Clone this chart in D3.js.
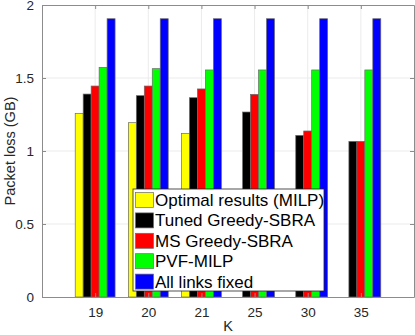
<!DOCTYPE html>
<html>
<head>
<meta charset="utf-8">
<script src="https://cdn.jsdelivr.net/npm/d3@7"></script>
<style>
  body { margin: 0; background: #fff; }
  svg { display: block; font-family: "Liberation Sans", Arial, sans-serif; }
</style>
</head>
<body>
<svg id="chart"></svg>
<script>
// Data
const categories = ['19', '20', '21', '25', '30', '35'];
const seriesNames = ['Optimal results (MILP)', 'Tuned Greedy-SBRA', 'MS Greedy-SBRA', 'PVF-MILP', 'All links fixed'];
const optimal = [1.258, 1.194, 1.121, null, null, null];
const tunedGreedy = [1.39, 1.379, 1.365, 1.267, 1.107, 1.066];
const msGreedy = [1.445, 1.445, 1.425, 1.388, 1.137, 1.066];
const pvfMilp = [1.573, 1.564, 1.555, 1.555, 1.555, 1.555];
const allFixed = [1.906, 1.906, 1.906, 1.906, 1.906, 1.906];
const yTicks = [0, 0.5, 1, 1.5, 2];
const colors = ['#ffff00', '#000000', '#ff0000', '#00ff00', '#0000ff'];

const series = [optimal, tunedGreedy, msGreedy, pvfMilp, allFixed];

const W = 415, H = 335;
const margin = { top: 5, right: 1, bottom: 38, left: 42 };
const width = W - margin.left - margin.right;
const height = H - margin.top - margin.bottom;

const svg = d3.select('svg#chart')
    .attr('width', W)
    .attr('height', H);

const g = svg.append('g')
    .attr('transform', `translate(${margin.left}, ${margin.top})`);

// x runs from 0 to 7 with groups at 1..6, like MATLAB bar()
const xScale = d3.scaleLinear()
    .domain([0, categories.length + 1])
    .range([0, width]);

const yScale = d3.scaleLinear()
    .domain([0, 2])
    .range([height, 0]);

// grid lines
g.append('g')
    .selectAll('line')
    .data(yTicks.slice(1, -1))
    .enter()
    .append('line')
    .attr('x1', 0)
    .attr('x2', width)
    .attr('y1', d => yScale(d))
    .attr('y2', d => yScale(d))
    .attr('stroke', '#ebebeb');

g.append('g')
    .selectAll('line')
    .data(categories)
    .enter()
    .append('line')
    .attr('x1', (d, i) => xScale(i + 1))
    .attr('x2', (d, i) => xScale(i + 1))
    .attr('y1', 0)
    .attr('y2', height)
    .attr('stroke', '#ebebeb');

// bars
const barW = xScale(0.15) - xScale(0);
series.forEach((vals, s) => {
    g.append('g')
        .selectAll('rect')
        .data(vals.map((v, i) => ({ v, i })).filter(d => d.v !== null))
        .enter()
        .append('rect')
        .attr('x', d => xScale(d.i + 1 + (s - 2) * 0.15) - barW / 2)
        .attr('y', d => yScale(d.v))
        .attr('width', barW)
        .attr('height', d => height - yScale(d.v))
        .attr('fill', colors[s])
        .attr('stroke', '#6a6a6a')
        .attr('stroke-width', 0.7);
});

// axes with inward ticks, box on
const tickColor = '#8c8c8c';
const xAxis = d3.axisBottom(xScale)
    .tickValues(d3.range(1, categories.length + 1))
    .tickFormat(d => categories[d - 1])
    .tickSizeInner(-4)
    .tickSizeOuter(0)
    .tickPadding(10);
const xAxisTop = d3.axisTop(xScale)
    .tickValues(d3.range(1, categories.length + 1))
    .tickFormat('')
    .tickSizeInner(-4)
    .tickSizeOuter(0);
const yAxis = d3.axisLeft(yScale)
    .tickValues(yTicks)
    .tickFormat(d3.format('~g'))
    .tickSizeInner(-4)
    .tickSizeOuter(0)
    .tickPadding(8);
const yAxisRight = d3.axisRight(yScale)
    .tickValues(yTicks)
    .tickFormat('')
    .tickSizeInner(-4)
    .tickSizeOuter(0);

g.append('g').attr('transform', `translate(0, ${height})`).call(xAxis);
g.append('g').call(xAxisTop);
g.append('g').call(yAxis);
g.append('g').attr('transform', `translate(${width}, 0)`).call(yAxisRight);

g.selectAll('.domain').attr('stroke', tickColor);
g.selectAll('.tick line').attr('stroke', tickColor);
g.selectAll('.tick text')
    .attr('fill', '#262626')
    .style('font-size', '13.5px');

// axis labels
svg.append('text')
    .attr('x', margin.left + width / 2)
    .attr('y', H - 4)
    .attr('text-anchor', 'middle')
    .attr('fill', '#262626')
    .style('font-size', '14.5px')
    .text('K');

svg.append('text')
    .attr('transform', `translate(15, ${margin.top + height / 2}) rotate(-90)`)
    .attr('text-anchor', 'middle')
    .attr('fill', '#262626')
    .style('font-size', '14.5px')
    .text('Packet loss (GB)');

// legend
const legend = svg.append('g').attr('transform', 'translate(133, 189)');
legend.append('rect')
    .attr('width', 191)
    .attr('height', 102)
    .attr('fill', '#fff')
    .attr('stroke', '#262626')
    .attr('stroke-width', 0.8);

const rows = legend.selectAll('g.item')
    .data(seriesNames)
    .enter()
    .append('g')
    .attr('class', 'item')
    .attr('transform', (d, i) => `translate(0, ${11 + i * 20.4})`);

rows.append('rect')
    .attr('x', 2.5)
    .attr('y', -7.5)
    .attr('width', 18)
    .attr('height', 15)
    .attr('fill', (d, i) => colors[i])
    .attr('stroke', '#6a6a6a')
    .attr('stroke-width', 0.7);

rows.append('text')
    .attr('x', 22)
    .attr('y', 6)
    .attr('fill', '#000')
    .style('font-size', '17px')
    .text(d => d);
</script>
</body>
</html>
